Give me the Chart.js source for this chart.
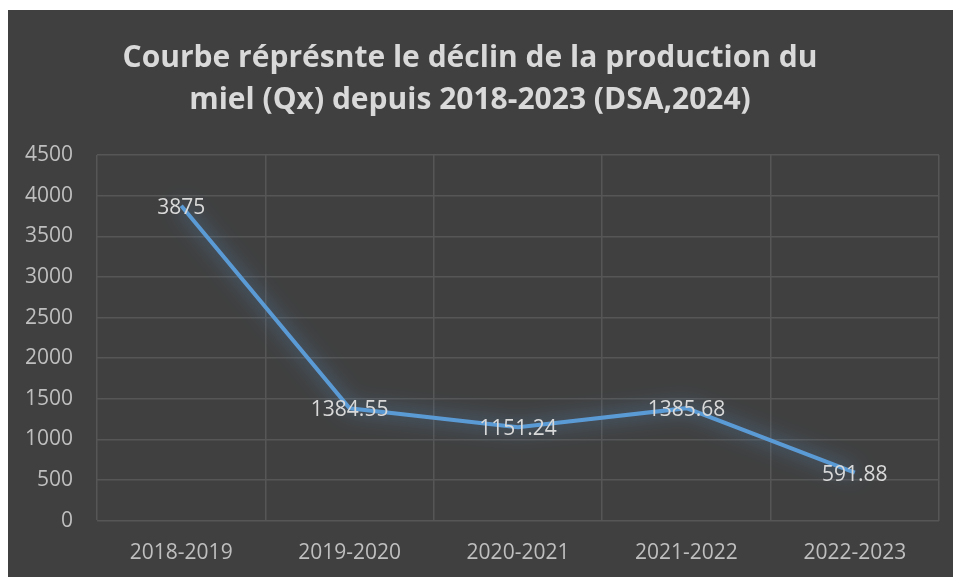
<!DOCTYPE html>
<html>
<head>
<meta charset="utf-8">
<script src="https://cdn.jsdelivr.net/npm/chart.js@4"></script>
<style>
  html, body { margin: 0; padding: 0; background: #ffffff; overflow: hidden; }
  #wrap { position: absolute; left: 8px; top: 10px; width: 945px; height: 576px; background: #404040; overflow: hidden; }
  #myChart { display: block; margin-left: -7px; }
</style>
</head>
<body>
<div id="wrap"><canvas id="myChart" width="952" height="576"></canvas></div>
<script>
// categories and values
const seasons = ['2018-2019', '2019-2020', '2020-2021', '2021-2022', '2022-2023'];
const production = [3875, 1384.55, 1151.24, 1385.68, 591.88];
const valueLabels = ['3875', '1384.55', '1151.24', '1385.68', '591.88'];
const yTicks = [0, 500, 1000, 1500, 2000, 2500, 3000, 3500, 4000, 4500];

const titleLines = ['Courbe réprésnte le déclin de la production du', 'miel (Qx) depuis 2018-2023 (DSA,2024)'];

// blue glow under the line
const glow = {
	id: 'glow',
	beforeDatasetDraw(chart) {
		const ctx = chart.ctx;
		ctx.save();
		ctx.shadowColor = 'rgba(91, 155, 213, 0.9)';
		ctx.shadowBlur = 20;
	},
	afterDatasetDraw(chart) {
		chart.ctx.restore();
	}
};

// value labels centred on each point
const pointLabels = {
	id: 'pointLabels',
	afterDatasetsDraw(chart) {
		const ctx = chart.ctx;
		const meta = chart.getDatasetMeta(0);
		ctx.save();
		ctx.font = '21px "Open Sans"';
		ctx.fillStyle = '#d9d9d9';
		ctx.textAlign = 'center';
		ctx.textBaseline = 'middle';
		meta.data.forEach((pt, i) => {
			ctx.fillText(valueLabels[i], pt.x, pt.y + 2);
		});
		ctx.restore();
	}
};

const myChart = document.getElementById('myChart');

new Chart(myChart, {
	type: 'line',
	data: {
		labels: seasons,
		datasets: [{
			data: production,
			borderColor: '#5b9bd5',
			borderWidth: 4,
			pointRadius: 0,
			tension: 0,
			fill: false
		}]
	},
	options: {
		responsive: false,
		animation: false,
		layout: { padding: { left: 0, right: 14, top: 0, bottom: 0 } },
		plugins: {
			legend: { display: false },
			tooltip: { enabled: false },
			title: {
				display: true,
				text: titleLines,
				color: '#d9d9d9',
				font: { family: '"Open Sans"', size: 30, weight: 'bold', lineHeight: 1.4 },
				padding: { top: 27, bottom: 34 }
			}
		},
		scales: {
			x: {
				offset: true,
				grid: { color: '#565656', lineWidth: 1.5, offset: true, drawTicks: false },
				border: { color: '#565656' },
				ticks: { color: '#bfbfbf', font: { family: '"Open Sans"', size: 21 }, padding: 20 }
			},
			y: {
				min: 0,
				max: 4500,
				afterBuildTicks(axis) {
					axis.ticks = yTicks.map(v => ({ value: v }));
				},
				grid: { color: '#565656', lineWidth: 1.5, drawTicks: false },
				border: { display: false },
				ticks: {
					color: '#bfbfbf',
					font: { family: '"Open Sans"', size: 21 },
					padding: 24,
					callback: v => String(v)
				}
			}
		}
	},
	plugins: [glow, pointLabels]
});
</script>
</body>
</html>
